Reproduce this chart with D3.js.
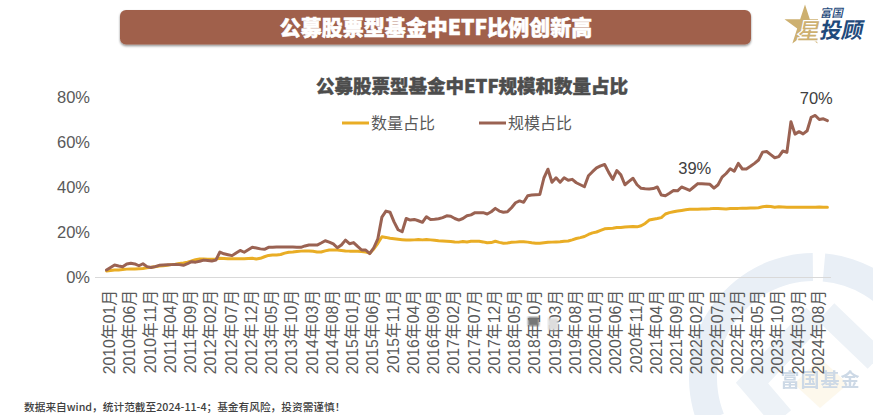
<!DOCTYPE html>
<html>
<head>
<meta charset="utf-8">
<script src="https://cdnjs.cloudflare.com/ajax/libs/d3/7.8.5/d3.min.js"></script>
<style>
html, body { margin: 0; padding: 0; background: #fff; overflow: hidden; }
svg { display: block; }
</style>
</head>
<body>
<div id="chart"></div>
<script>
// 规模占比 by month, 2010-01 to 2024-11
const sizeShare = [
    3.1, 4.2, 5.3, 4.9, 4.6, 5.8, 6.1, 5.8, 5.0, 5.9, 4.6, 4.2,
    4.6, 5.2, 5.3, 5.4, 5.5, 5.6, 5.5, 5.2, 5.9, 6.8, 6.6, 7.0,
    7.5, 7.3, 7.1, 7.5, 11.1, 10.3, 9.9, 9.5, 10.7, 11.8, 11.0, 12.1,
    13.2, 12.9, 12.5, 12.3, 13.2, 13.2, 13.3, 13.3, 13.3, 13.3, 13.3, 13.2,
    13.2, 13.8, 14.2, 14.2, 14.2, 15.1, 16.1, 15.5, 14.7, 13.0, 14.2, 16.4,
    14.8, 15.3, 13.6, 12.0, 12.0, 10.4, 13.0, 17.0, 26.6, 29.3, 28.8, 24.5,
    21.0, 20.1, 26.0, 25.3, 25.6, 25.0, 24.3, 26.8, 25.6, 25.7, 25.9, 26.4,
    27.2, 27.0, 26.0, 25.3, 26.0, 27.2, 27.6, 28.6, 28.6, 28.6, 28.0, 29.0,
    30.5, 29.3, 28.8, 29.0, 30.8, 33.0, 33.8, 33.2, 36.1, 36.4, 36.6, 36.7,
    44.0, 47.9, 42.1, 44.1, 42.1, 44.1, 43.0, 43.4, 41.9, 41.0, 40.1, 45.0,
    46.8, 48.5, 49.4, 50.0, 46.5, 43.4, 47.3, 45.4, 41.0, 42.5, 43.9, 41.0,
    39.4, 39.2, 39.1, 39.3, 40.0, 36.4, 36.1, 37.2, 38.4, 38.3, 40.0, 39.3,
    38.5, 40.0, 41.5, 41.4, 41.3, 41.2, 39.5, 41.0, 44.4, 46.0, 48.1, 47.0,
    50.5, 48.0, 48.0, 49.2, 50.5, 52.0, 55.5, 55.8, 54.4, 53.0, 53.5, 56.0,
    55.4, 69.0, 63.5, 64.6, 63.6, 65.0, 71.0, 71.8, 70.0, 70.3, 69.5
];

// 数量占比 by month
const countShare = [
    2.7, 2.9, 3.1, 3.1, 3.3, 3.5, 3.6, 3.6, 3.7, 3.8, 4.1, 4.3,
    4.6, 4.9, 5.0, 5.2, 5.5, 5.7, 6.0, 6.2, 6.6, 7.1, 7.7, 8.0,
    8.0, 7.9, 7.9, 8.0, 8.3, 8.2, 8.1, 8.1, 8.1, 8.1, 8.1, 8.2,
    8.3, 8.0, 8.3, 9.0, 9.6, 9.8, 9.8, 10.0, 10.6, 11.0, 11.1, 11.3,
    11.5, 11.6, 11.6, 11.4, 11.1, 11.1, 11.6, 12.0, 12.0, 12.0, 11.8, 11.6,
    11.5, 11.5, 11.4, 11.3, 11.1, 10.6, 12.5, 15.0, 17.9, 17.6, 17.2, 17.0,
    16.8, 16.6, 16.4, 16.4, 16.5, 16.7, 16.5, 16.7, 16.5, 16.3, 16.1, 16.0,
    15.9, 15.8, 15.6, 15.5, 15.8, 15.6, 15.9, 15.9, 15.9, 15.6, 15.2, 15.3,
    15.9, 15.4, 15.0, 15.1, 15.4, 15.5, 15.7, 15.7, 15.5, 15.2, 15.0, 15.0,
    15.2, 15.4, 15.5, 15.6, 15.7, 15.9, 16.0, 16.5, 17.1, 17.5, 18.0, 18.9,
    19.6, 20.0, 20.7, 21.4, 21.6, 21.7, 22.0, 22.0, 22.2, 22.3, 22.4, 22.3,
    22.8, 23.8, 25.3, 25.7, 26.0, 26.4, 28.0, 28.6, 29.0, 29.3, 29.6, 29.9,
    30.1, 30.1, 30.1, 30.2, 30.2, 30.3, 30.5, 30.4, 30.3, 30.2, 30.4, 30.5,
    30.5, 30.6, 30.6, 30.7, 30.7, 30.8, 31.2, 31.4, 31.3, 31.0, 31.2, 31.1,
    31.0, 31.0, 31.0, 31.0, 31.0, 31.0, 31.0, 31.0, 31.1, 31.0, 31.0
];

const yTicks = [0, 20, 40, 60, 80];
const xTickEvery = 5;
const startYear = 2010;

const legendItems = ['数量占比', '规模占比'];
const callouts = [
    { label: '39%', index: 145, value: 39 },
    { label: '70%', index: 175, value: 70 }
];

const mainTitle = '公募股票型基金中ETF比例创新高';
const chartTitle = '公募股票型基金中ETF规模和数量占比';
const footNote = '数据来自wind，统计范截至2024-11-4；基金有风险，投资需谨慎！';

const BROWN = '#9a6252';
const YELLOW = '#e9ad25';
const TEXT = '#595959';
const CJK = '"Noto Sans CJK SC", "Liberation Sans", sans-serif';
const LATIN = '"Liberation Sans", "Noto Sans CJK SC", sans-serif';

// Month labels, one per data point
const months = sizeShare.map((d, i) => {
    const y = startYear + Math.floor(i / 12);
    const m = String(i % 12 + 1).padStart(2, '0');
    return `${y}年${m}月`;
});

const svg = d3.select('#chart')
    .append('svg')
    .attr('width', 873)
    .attr('height', 415);

const defs = svg.append('defs');
const shadow = defs.append('filter').attr('id', 'banner-shadow')
    .attr('x', '-5%').attr('y', '-20%').attr('width', '110%').attr('height', '150%');
shadow.append('feDropShadow')
    .attr('dx', 0).attr('dy', 1.5).attr('stdDeviation', 1.2)
    .attr('flood-color', '#000').attr('flood-opacity', 0.45);
defs.append('filter').attr('id', 'smudge')
    .append('feGaussianBlur').attr('stdDeviation', 1.2);
defs.append('filter').attr('id', 'soft')
    .append('feGaussianBlur').attr('stdDeviation', 0.5);
defs.append('clipPath').attr('id', 'star-clip')
    .append('rect').attr('x', 775).attr('y', 0).attr('width', 43).attr('height', 50);

// Watermark goes first, everything else sits above it
const mark = svg.append('g').attr('class', 'watermark');
const ring = d3.arc().innerRadius(97).outerRadius(125);
mark.append('path')
    .attr('transform', 'translate(814, 378)')
    .attr('d', ring.startAngle(-Math.PI * 0.62).endAngle(-0.01)())
    .attr('fill', '#e9eff6');
mark.append('path')
    .attr('transform', 'translate(814, 378)')
    .attr('d', ring.startAngle(0.09).endAngle(Math.PI * 0.6)())
    .attr('fill', '#e9eff6');
mark.append('path')
    .attr('d', 'M782,418 L752,383 L815,316')
    .attr('fill', 'none')
    .attr('stroke', '#edf2f7')
    .attr('stroke-width', 24);
mark.append('path')
    .attr('d', 'M826,312 L876,360')
    .attr('fill', 'none')
    .attr('stroke', '#edf2f7')
    .attr('stroke-width', 24);
mark.append('path')
    .attr('d', 'M820,358 L848,384 L820,408 L794,384 Z')
    .attr('fill', '#fdf8ec');
mark.append('text')
    .attr('x', 820.5).attr('y', 387)
    .attr('text-anchor', 'middle')
    .attr('font-family', CJK).attr('font-weight', 700).attr('font-size', 19)
    .attr('letter-spacing', 1)
    .attr('fill', '#cdd9e6')
    .attr('filter', 'url(#soft)')
    .text('富国基金');

// Banner
svg.append('rect')
    .attr('x', 120).attr('y', 10)
    .attr('width', 631).attr('height', 34.5)
    .attr('rx', 6)
    .attr('fill', '#a0614b')
    .attr('filter', 'url(#banner-shadow)');
svg.append('text')
    .attr('x', 436).attr('y', 34.5)
    .attr('text-anchor', 'middle')
    .attr('font-family', CJK).attr('font-weight', 900).attr('font-size', 21)
    .attr('fill', '#fff')
    .attr('stroke', '#fff').attr('stroke-width', 0.5)
    .text(mainTitle);

// Logo, top right
const logo = svg.append('g').attr('class', 'logo');
logo.append('path')
    .attr('transform', 'translate(805, 26)')
    .attr('d', d3.symbol().type(d3.symbolStar).size(520)())
    .attr('clip-path', null)
    .attr('fill', '#cdb070');
logo.append('rect')
    .attr('x', 818).attr('y', 0).attr('width', 20).attr('height', 48)
    .attr('fill', '#fff');
logo.append('text')
    .attr('transform', 'translate(797, 39) skewX(-12)')
    .attr('font-family', CJK).attr('font-weight', 500).attr('font-size', 22)
    .attr('fill', '#cdb070')
    .attr('stroke', '#fff').attr('stroke-width', 2.5)
    .attr('paint-order', 'stroke')
    .text('星');
logo.append('text')
    .attr('transform', 'translate(820, 17) skewX(-12)')
    .attr('font-family', CJK).attr('font-weight', 500).attr('font-size', 11.5)
    .attr('fill', '#1f4a7c')
    .text('富国');
logo.append('text')
    .attr('transform', 'translate(819, 38) skewX(-12)')
    .attr('font-family', CJK).attr('font-weight', 700).attr('font-size', 21.5)
    .attr('fill', '#1f4a7c')
    .text('投顾');

// Chart title
svg.append('text')
    .attr('x', 472).attr('y', 92.5)
    .attr('text-anchor', 'middle')
    .attr('font-family', CJK).attr('font-weight', 900).attr('font-size', 18.5)
    .attr('fill', '#4d4d4d')
    .attr('stroke', '#4d4d4d').attr('stroke-width', 0.4)
    .text(chartTitle);

// Scales
const xScale = d3.scalePoint()
    .domain(months)
    .range([106.5, 827.4]);

const yScale = d3.scaleLinear()
    .domain([0, 80])
    .range([277, 97]);

// X axis
const xAxis = svg.append('g')
    .attr('class', 'x-axis')
    .attr('transform', 'translate(0, 277)')
    .call(d3.axisBottom(xScale)
        .tickValues(months.filter((d, i) => i % xTickEvery === 0 && i < 176))
        .tickSize(0));

xAxis.select('.domain')
    .attr('d', 'M95,0.5H831')
    .attr('stroke', '#d9d9d9');

xAxis.selectAll('.tick text')
    .attr('transform', 'translate(2.5, 13) rotate(-90)')
    .attr('x', 0).attr('y', 0).attr('dy', '0.36em')
    .attr('text-anchor', 'end')
    .attr('font-family', LATIN).attr('font-size', 15.8)
    .attr('fill', TEXT);

// Y axis
const yAxis = svg.append('g')
    .attr('class', 'y-axis')
    .attr('transform', 'translate(90, 0)')
    .call(d3.axisLeft(yScale)
        .tickValues(yTicks)
        .tickFormat(d => `${d}%`)
        .tickSize(0)
        .tickPadding(0));

yAxis.select('.domain').remove();
yAxis.selectAll('.tick text')
    .attr('font-family', LATIN).attr('font-size', 16.5)
    .attr('fill', TEXT);

// Lines
const line = d3.line()
    .x((d, i) => xScale(months[i]))
    .y(d => yScale(d));

svg.append('path')
    .datum(countShare)
    .attr('d', line)
    .attr('fill', 'none')
    .attr('stroke', YELLOW)
    .attr('stroke-width', 3)
    .attr('stroke-linejoin', 'round')
    .attr('stroke-linecap', 'round');

svg.append('path')
    .datum(sizeShare)
    .attr('d', line)
    .attr('fill', 'none')
    .attr('stroke', BROWN)
    .attr('stroke-width', 3)
    .attr('stroke-linejoin', 'round')
    .attr('stroke-linecap', 'round');

// Callouts
svg.selectAll('.callout')
    .data(callouts)
    .enter()
    .append('text')
    .attr('class', 'callout')
    .attr('x', d => xScale(months[d.index]) + 1)
    .attr('y', d => yScale(d.value) - 15.5)
    .attr('text-anchor', 'middle')
    .attr('font-family', LATIN).attr('font-size', 16.5)
    .attr('fill', '#404040')
    .text(d => d.label);

// Legend
const legend = svg.selectAll('.legend-item')
    .data(legendItems)
    .enter()
    .append('g')
    .attr('class', 'legend-item')
    .attr('transform', (d, i) => `translate(${342 + i * 137}, 123)`);

legend.append('line')
    .attr('x1', 0).attr('x2', 27)
    .attr('stroke', (d, i) => i === 0 ? YELLOW : BROWN)
    .attr('stroke-width', 3);

legend.append('text')
    .attr('x', 29).attr('y', 5.5)
    .attr('font-family', CJK).attr('font-size', 16)
    .attr('fill', TEXT)
    .text(d => d);

// The reference has a blurred patch over two of the labels
svg.append('rect')
    .attr('x', 528).attr('y', 317).attr('width', 11).attr('height', 9)
    .attr('fill', '#777').attr('filter', 'url(#smudge)');
svg.append('rect')
    .attr('x', 548).attr('y', 318).attr('width', 10).attr('height', 12)
    .attr('fill', '#ddd').attr('filter', 'url(#smudge)');

// Footnote
svg.append('text')
    .attr('x', 24).attr('y', 411)
    .attr('font-family', CJK).attr('font-weight', 500).attr('font-size', 10.7)
    .attr('fill', '#404040')
    .text(footNote);
</script>
</body>
</html>
